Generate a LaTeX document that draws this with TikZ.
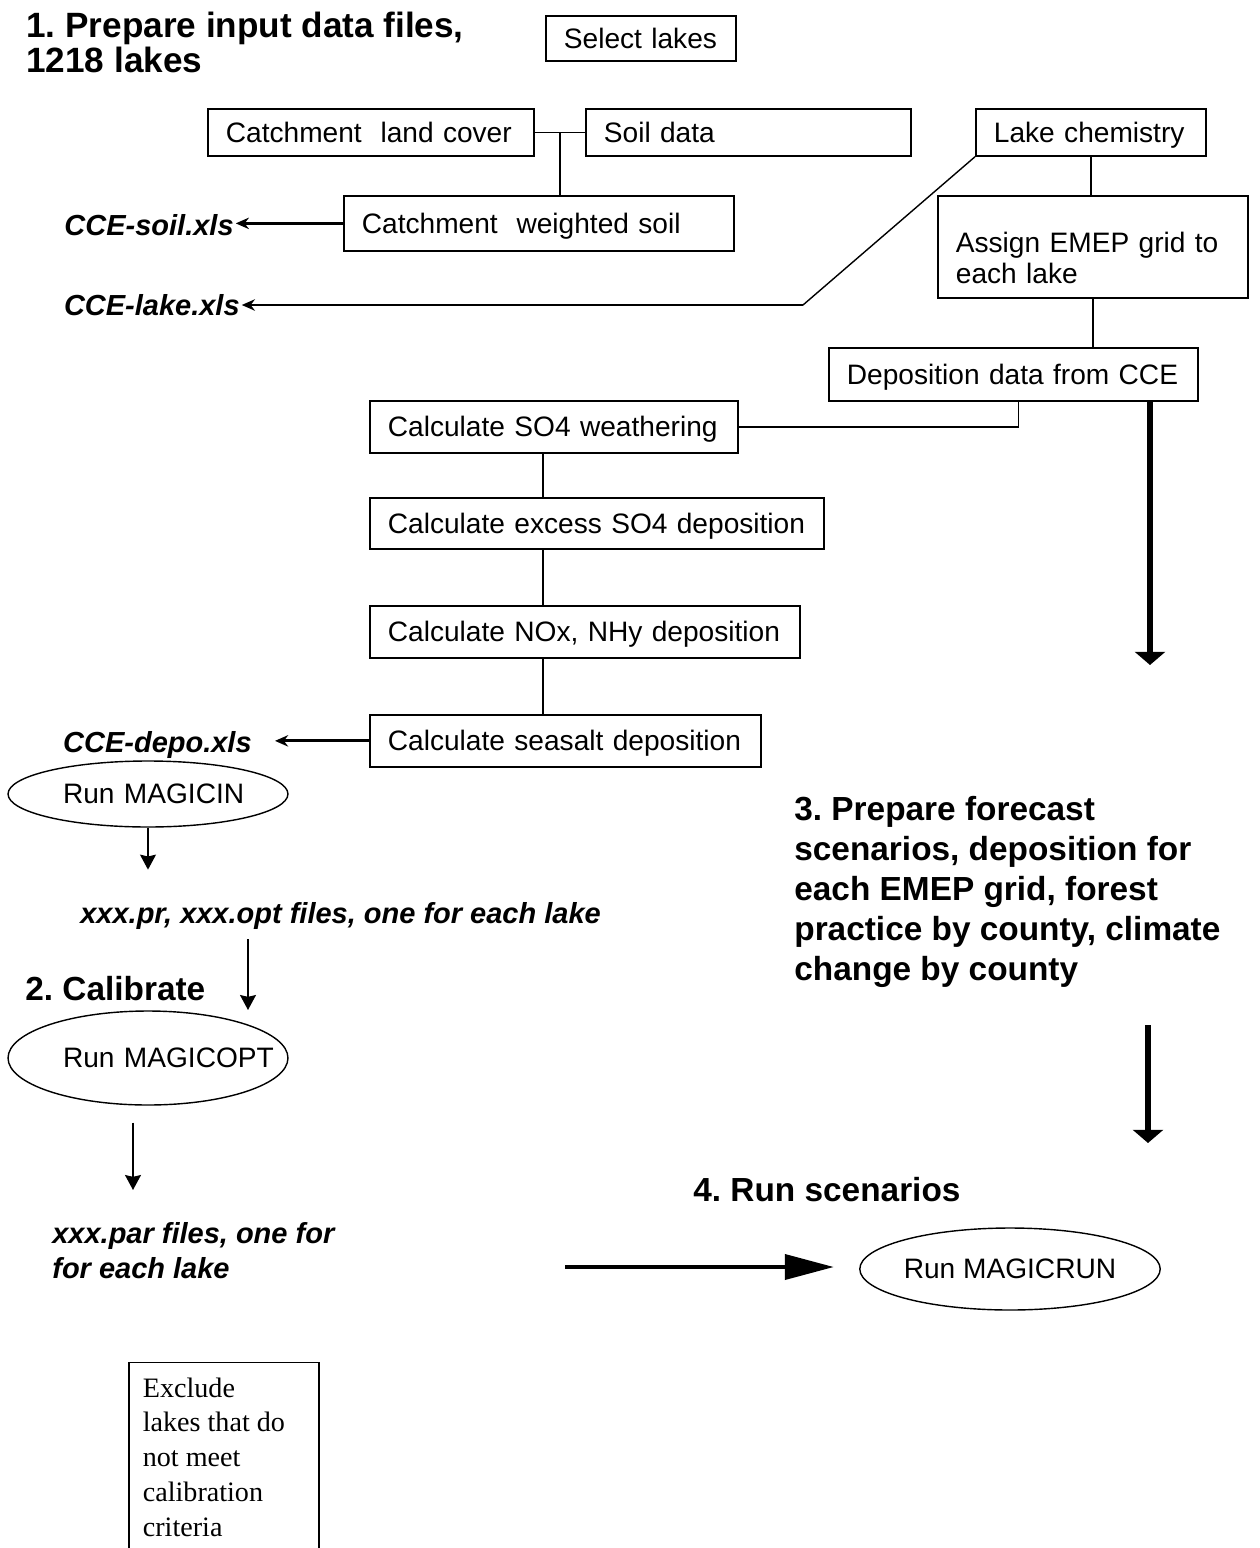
\documentclass[tikz,border=0pt]{standalone}
\usepackage{fontspec}
\setmainfont{Liberation Sans}
\newfontfamily\notefont{Liberation Serif}
\usetikzlibrary{positioning,arrows.meta,shapes.geometric,calc}
\frenchspacing

\begin{document}
\begin{tikzpicture}[x=0.02cm, y=-0.02cm, >=Stealth,
        stepbox/.style={draw, line width=1pt, anchor=north west, align=left, inner xsep=0.36cm, inner ysep=0pt, text height=14.7pt, text depth=3.2pt, font=\fontsize{16}{18}\selectfont},
        runoval/.style={draw, ellipse, line width=0.8pt, inner sep=0pt, font=\fontsize{16}{18}\selectfont},
        heading/.style={align=left, inner sep=0pt, anchor=base west, font=\bfseries\fontsize{19}{22.7}\selectfont},
        outfile/.style={align=left, inner sep=0pt, font=\bfseries\itshape\fontsize{16.5}{19.8}\selectfont},
        link/.style={line width=0.8pt},
        filearrow/.style={line width=1.6pt, -{Stealth[length=7.5pt,width=6.5pt]}},
        steparrow/.style={line width=1.1pt, -{Stealth[length=8.5pt,width=9pt,inset=1pt]}},
        bigarrow/.style={line width=3.4pt, -{Triangle[length=7.5pt,width=17pt]}},
        runarrow/.style={line width=2.8pt, -{Triangle[length=28pt,width=14pt]}}]
        \useasboundingbox (0,0) rectangle (1259,1548);
        \clip (0,0) rectangle (1259,1548);

        % 1. input data
        \node[heading, font=\bfseries\fontsize{20}{19.8}\selectfont] (prep) at (26,72) {1. Prepare input data files,\\1218 lakes};
        \node[stepbox, text width=3.08cm, minimum height=0.9cm] (select) at (545,15) {Select lakes};
        \node[stepbox, text width=5.8cm, minimum height=0.94cm] (landcover) at (207,108) {Catchment\ \ land cover};
        \node[stepbox, text width=5.78cm, minimum height=0.94cm] (soil) at (585,108) {Soil data};
        \node[stepbox, text width=7.08cm, minimum height=1.1cm] (weighted) at (343,195) {Catchment\ \ weighted soil};
        \node[stepbox, text width=3.88cm, minimum height=0.94cm] (lakechem) at (975,108) {Lake chemistry};
        \node[stepbox, text width=5.48cm, minimum height=2.04cm, text depth=8.8pt] (assign) at (937,195) {Assign EMEP grid to\\each lake};
        \node[stepbox, text width=6.66cm, minimum height=1.06cm] (depo) at (828,347) {Deposition data from CCE};
        \node[stepbox, text width=6.64cm, minimum height=1.04cm] (weath) at (369,400) {Calculate SO4 weathering};
        \node[stepbox, text width=8.36cm, minimum height=1.02cm] (excess) at (369,497) {Calculate excess SO4 deposition};
        \node[stepbox, text width=7.88cm, minimum height=1.04cm] (noxnhy) at (369,605) {Calculate NOx, NHy deposition};
        \node[stepbox, text width=7.1cm, minimum height=1.04cm] (seasalt) at (369,714) {Calculate seasalt deposition};

        \node[outfile, anchor=east] (soilxls) at (234,225) {CCE-soil.xls};
        \node[outfile, anchor=east] (lakexls) at (240,305) {CCE-lake.xls};
        \node[outfile, anchor=base east] (depoxls) at (252,752) {CCE-depo.xls};

        % 2. calibrate
        \node[runoval, minimum width=5.6cm, minimum height=1.32cm, text width=3.4cm, align=left] (magicin) at (148,794) {\mbox{Run MAGICIN}};
        \node[outfile, anchor=base west] (prfiles) at (80,923) {xxx.pr, xxx.opt files, one for each lake};
        \node[heading] (calib) at (25,1000) {2. Calibrate};
        \node[runoval, minimum width=5.6cm, minimum height=1.88cm, text width=3.4cm, align=left] (magicopt) at (148,1058) {\mbox{Run MAGICOPT}};
        \node[outfile, anchor=base west] (parfiles) at (52,1278) {xxx.par files, one for\\for each lake};
        \node[draw, line width=1pt, anchor=base west, inner xsep=0.28cm, inner ysep=0.3cm, font=\notefont\fontsize{16}{19.8}\selectfont] (exclude) at (128,1397)
            {\parbox[t][5cm][t]{3.24cm}{\raggedright Exclude\\lakes that do\\not meet\\calibration\\criteria}};

        % 3. and 4. scenarios
        \node[heading] (forecast) at (794,980) {3. Prepare forecast\\scenarios, deposition for\\each EMEP grid, forest\\practice by county, climate\\change by county};
        \node[heading] (runsc) at (693,1201) {4. Run scenarios};
        \node[runoval, minimum width=5.8cm, minimum height=1.64cm] (magicrun) at (1010,1269) {Run MAGICRUN};

        \coordinate (jn) at ($(landcover.east)!0.5!(soil.west)$);
        \coordinate (bend) at (803,305);
        \coordinate (dropA) at (1150,665);
        \coordinate (dropC) at (1148,1143);
        \coordinate (calin) at (248,1010);
        \coordinate (parin) at (133,1190);
        \coordinate (runfrom) at (565,1267);

        \draw[link] (landcover) -- (soil);
        \draw[link] (jn) -- (jn |- weighted.north);
        \draw[filearrow, shorten >=1pt] (weighted.west) -- (weighted.west -| soilxls.east);
        \draw[link] (lakechem.south west) -- (bend);
        \draw[filearrow, shorten >=1pt] (bend) -- (lakexls);
        \draw[link] (lakechem.south) -- (lakechem.south |- assign.north);
        \draw[link] (assign.south) -- (assign.south |- depo.north);
        \draw[link] ([xshift=0.1cm]depo.south) |- (weath.east);
        \draw[bigarrow] (depo.south -| dropA) -- (dropA);
        \draw[link] ([xshift=3.48cm]weath.south west) -- ([xshift=3.48cm]excess.north west);
        \draw[link] ([xshift=3.48cm]excess.south west) -- ([xshift=3.48cm]noxnhy.north west);
        \draw[link] ([xshift=3.48cm]noxnhy.south west) -- ([xshift=3.48cm]seasalt.north west);
        \draw[filearrow, shorten >=0.46cm] (seasalt.west) -- (seasalt.west -| depoxls.east);

        \draw[steparrow, shorten >=0.64cm] (magicin.south) -- (magicin.south |- prfiles.north);
        \draw[steparrow, shorten <=0.2cm] (prfiles.south -| calin) -- (calin);
        \draw[steparrow, shorten <=0.34cm] (magicopt.south -| parin) -- (parin);
        \draw[runarrow, shorten >=0.5cm] (runfrom) -- (runfrom -| magicrun.west);
        \draw[bigarrow, shorten <=0.76cm] (forecast.south -| dropC) -- (dropC);
    \end{tikzpicture}
\end{document}
